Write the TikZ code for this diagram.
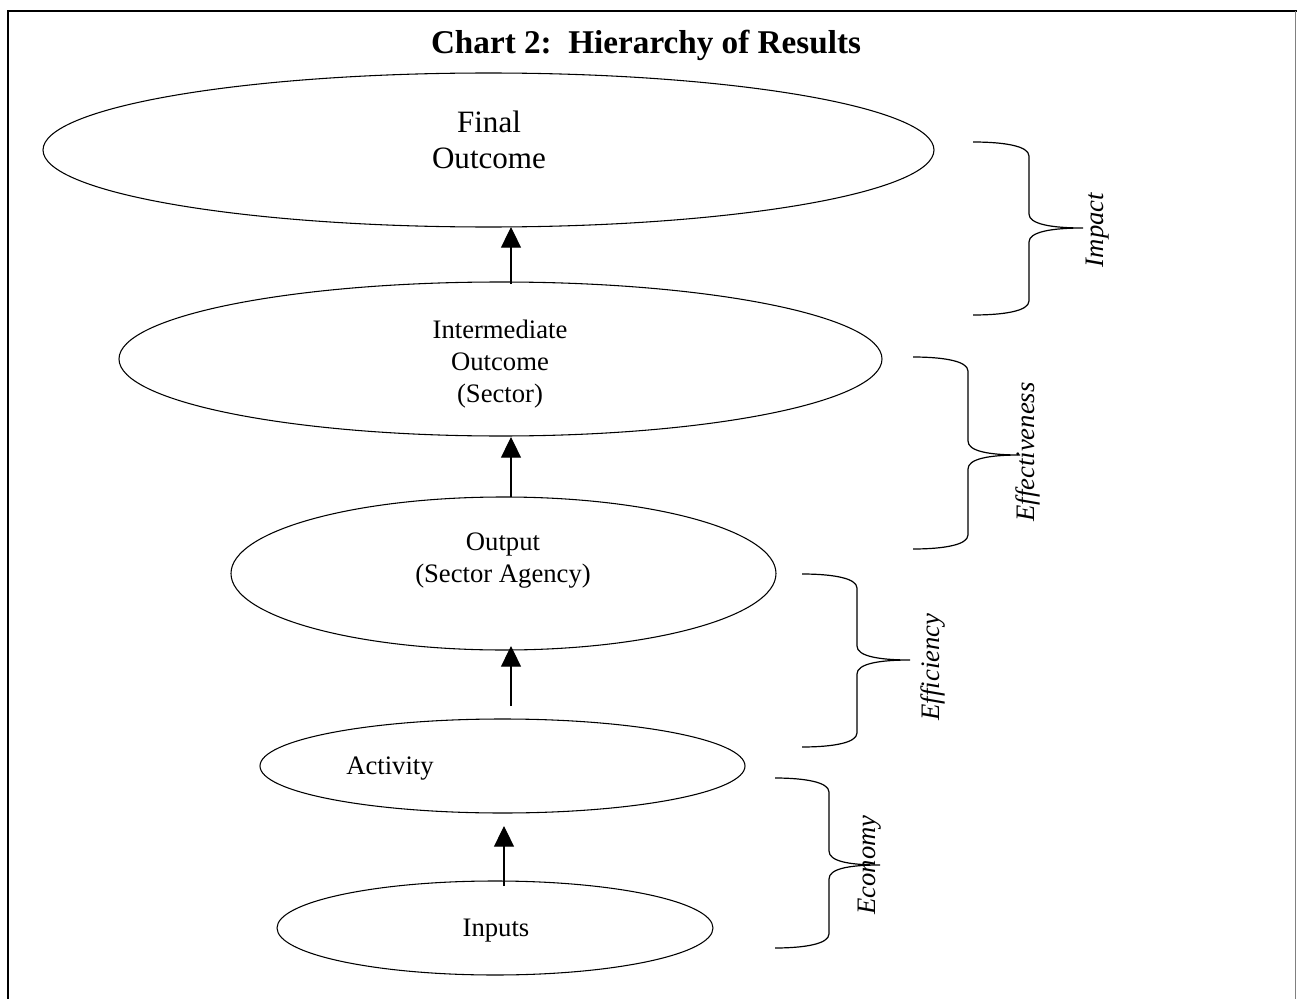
\documentclass[tikz,border=0pt]{standalone}
\usepackage{fontspec}
\setmainfont{Liberation Serif}
\usetikzlibrary{arrows.meta,shapes.geometric}
\newcommand{\curlybr}[6]{%
  \draw[bracestyle] (#1,#4) .. controls ({#2-25},#4) and (#2,{#4+4}) .. (#2,{#4+14})
    -- (#2,{#5-14}) .. controls (#2,{#5-4}) and ({#3-32},#5) .. (#3,#5)
    .. controls ({#3-32},#5) and (#2,{#5+4}) .. (#2,{#5+14})
    -- (#2,{#6-14}) .. controls (#2,{#6-4}) and ({#2-25},#6) .. (#1,#6);}
\begin{document}
\begin{tikzpicture}[x=0.75pt,y=-0.75pt,
  oval/.style={draw, ellipse, line width=0.8pt, inner sep=0pt},
  lbl/.style={font=\fontsize{20}{24}\selectfont, align=center, inner sep=0pt},
  biglbl/.style={font=\fontsize{23.3}{27}\selectfont, align=center, inner sep=0pt},
  sidelbl/.style={font=\fontsize{20}{24}\selectfont\itshape, rotate=90, inner sep=0pt},
  uparrow/.style={-{Triangle[width=15pt,length=15.5pt]}, line width=0.8pt},
  bracestyle/.style={line width=0.9pt},
  framestyle/.style={line width=1.1pt}]
\useasboundingbox (0,0) rectangle (1297,999);
\fill[white] (0,0) rectangle (1297,999);
% frame
\draw[framestyle] (8,999) -- (8,11) -- (1297,11);
\draw[line width=0.9pt, gray] (1295.8,11) -- (1295.8,999);
% title
\node[font=\fontsize{24.9}{29}\selectfont\bfseries, inner sep=0pt] (title) at (646,45) {Chart 2:\ \ Hierarchy of Results};
% ellipses
\node[oval, minimum width=668.25pt, minimum height=115.5pt] (final) at (488.5,150) {};
\node[oval, minimum width=572.25pt, minimum height=115.5pt] (inter) at (500.5,359) {};
\node[oval, minimum width=408.75pt, minimum height=114.75pt] (output) at (503.5,573.5) {};
\node[oval, minimum width=363.75pt, minimum height=70.5pt] (activity) at (502.5,766) {};
\node[oval, minimum width=327pt, minimum height=70.5pt] (inputs) at (495,928) {};
% texts
\node[biglbl] (tfinal) at (489,140) {Final\\Outcome};
\node[lbl] (tinter) at (500,364) {Intermediate\\Outcome\\(Sector)};
\node[lbl] (toutput) at (503,561) {Output\\(Sector Agency)};
\node[lbl] (tactivity) at (390,769) {Activity};
\node[lbl] (tinputs) at (496,931) {Inputs};
% arrows
\coordinate (a1s) at (511,284); \coordinate (a1e) at (511,227);
\coordinate (a2s) at (511,497); \coordinate (a2e) at (511,437);
\coordinate (a3s) at (511,706); \coordinate (a3e) at (511,646);
\coordinate (a4s) at (504,886); \coordinate (a4e) at (504,826);
\draw[uparrow] (a1s) -- (a1e);
\draw[uparrow] (a2s) -- (a2e);
\draw[uparrow] (a3s) -- (a3e);
\draw[uparrow] (a4s) -- (a4e);
% braces
\curlybr{973}{1029}{1083}{142}{228}{315}
\curlybr{913}{968}{1020}{357}{455}{549}
\curlybr{802}{857}{910}{574}{660}{747}
\curlybr{775}{829}{880}{778}{865}{948}
% side labels
\node[sidelbl] (impact) at (1098,230) {Impact};
\node[sidelbl] (effect) at (1028,452) {Effectiveness};
\node[sidelbl] (effic) at (933,667) {Efficiency};
\node[sidelbl] (econ) at (870,865) {Economy};
\end{tikzpicture}
\end{document}
